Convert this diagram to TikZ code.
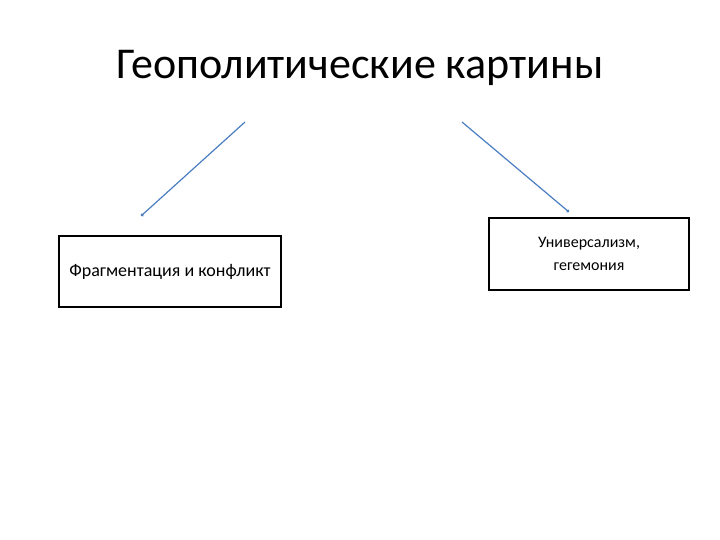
\documentclass[tikz,border=0pt]{standalone}
\usepackage{fontspec}
\setmainfont{Carlito}
\usetikzlibrary{arrows.meta}
\begin{document}
\begin{tikzpicture}[x=1pt,y=-1pt,
  box/.style={draw=black,line width=1.3pt,inner sep=0pt,align=center},
  conn/.style={draw={rgb,255:red,74;green,126;blue,193},line width=1.2pt,-{Circle[length=3pt]}}]
\useasboundingbox (0,0) rectangle (720,540);
\node[font=\fontsize{44}{48}\selectfont] (title) at (360,68) {Геополитические картины};
\coordinate (l0) at (245,122);
\coordinate (r0) at (462,122);
\node[box,minimum width=222pt,minimum height=71pt,font=\fontsize{18}{22}\selectfont] (left) at (170,271.5) {Фрагментация и конфликт};
\node[box,minimum width=200pt,minimum height=72pt,font=\fontsize{16}{23}\selectfont] (right) at (589,254) {Универсализм,\\гегемония};
\coordinate (l1) at (141,216);
\coordinate (r1) at (569,212);
\draw[conn] (l0) -- (l1);
\draw[conn] (r0) -- (r1);
\end{tikzpicture}
\end{document}
